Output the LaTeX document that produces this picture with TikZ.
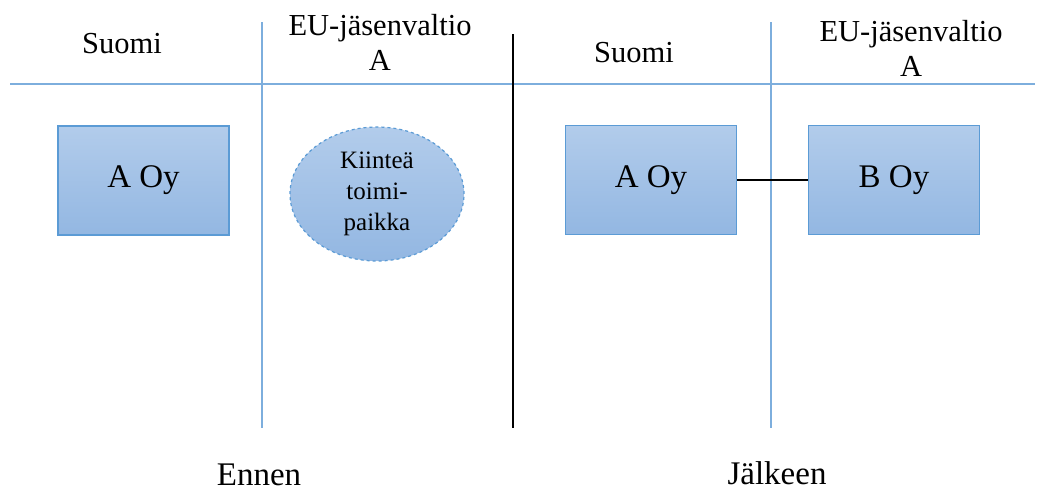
\documentclass[tikz,border=0pt]{standalone}
\usepackage{fontspec}
\setmainfont{Liberation Serif}
\usetikzlibrary{shapes.geometric}
\definecolor{gridblue}{HTML}{7DAEDD}
\definecolor{boxedge}{HTML}{5B9BD5}
\definecolor{boxtop}{HTML}{B2CCEB}
\definecolor{boxbottom}{HTML}{93B7E2}
\tikzset{
  gridline/.style={draw=gridblue, line width=1.3pt},
  divider/.style={draw=black, line width=2.8pt},
  company/.style={rectangle, draw=boxedge, line width=1.2pt,
    top color=boxtop, bottom color=boxbottom,
    minimum width=171pt, minimum height=109pt, inner sep=0pt,
    font=\fontsize{33}{38}\selectfont},
  branch/.style={ellipse, draw=boxedge, dashed, line width=1.2pt,
    top color=boxtop, bottom color=boxbottom,
    minimum width=174pt, minimum height=134pt, inner sep=0pt,
    align=center, font=\fontsize{25}{31}\selectfont},
  heading/.style={anchor=base, inner sep=0pt, font=\fontsize{30.5}{36}\selectfont},
  caption/.style={anchor=base, inner sep=0pt, font=\fontsize{33}{38}\selectfont},
  link/.style={draw=black, line width=1.2pt}
}
\begin{document}
\begin{tikzpicture}[x=1pt, y=-1pt]
  \useasboundingbox (0,0) rectangle (1043,493);

  % table rules
  \coordinate (hl) at (10,84);
  \coordinate (hr) at (1035,84);
  \coordinate (v1t) at (262,22);
  \coordinate (v1b) at (262,428);
  \coordinate (v2t) at (771,22);
  \coordinate (v2b) at (771,428);
  \coordinate (mt) at (513,34);
  \coordinate (mb) at (513,428);
  \draw[gridline] (hl) -- (hr);
  \draw[gridline] (v1t) -- (v1b);
  \draw[gridline] (v2t) -- (v2b);
  \draw[divider] (mt) -- (mb);

  % column headings
  \node[heading] (fi1) at (122,53) {Suomi};
  \node[heading] (eu1a) at (380,35) {EU-jäsenvaltio};
  \node[heading] (eu1b) at (380,70) {A};
  \node[heading] (fi2) at (634,62) {Suomi};
  \node[heading] (eu2a) at (911,41) {EU-jäsenvaltio};
  \node[heading] (eu2b) at (911,76) {A};

  % before
  \node[company] (aoy1) at (143.5,180.5) {A Oy};
  \node[branch] (kp) at (377,194) {Kiinteä\\toimi-\\paikka};

  % after
  \node[company] (aoy2) at (651,180) {A Oy};
  \node[company] (boy) at (894,180) {B Oy};
  \draw[link] (aoy2) -- (boy);

  % captions
  \node[caption] (before) at (259,485) {Ennen};
  \node[caption] (after) at (777,484) {Jälkeen};
\end{tikzpicture}
\end{document}
